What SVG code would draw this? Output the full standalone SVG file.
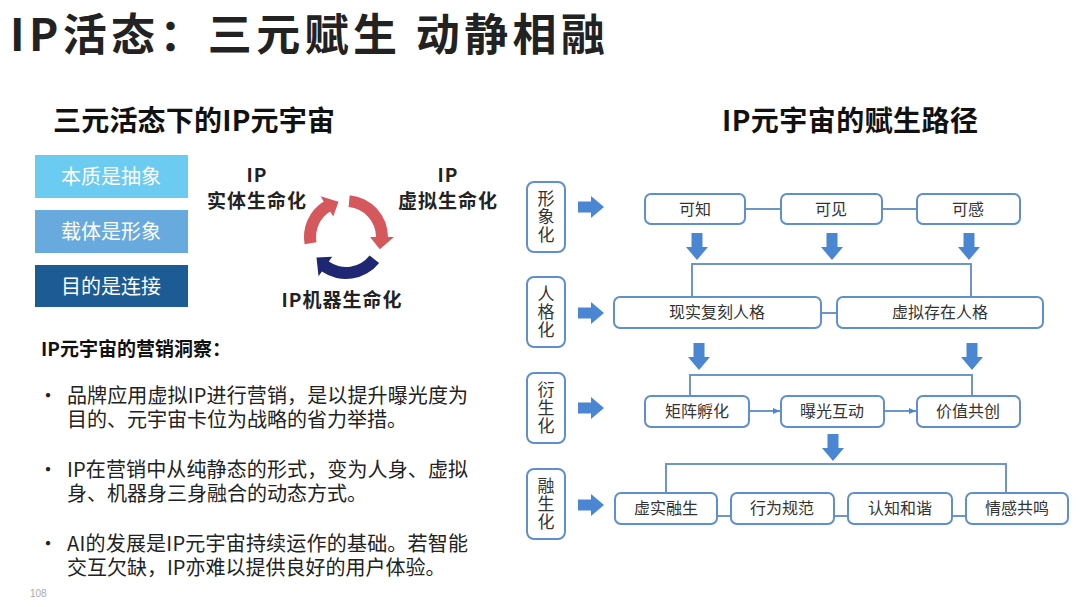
<svg xmlns="http://www.w3.org/2000/svg" xmlns:xlink="http://www.w3.org/1999/xlink" width="1080" height="607" viewBox="0 0 1080 607">
<style>
text{font-family:"Noto Sans CJK SC","Noto Sans",sans-serif;}
.title{font-size:44px;font-weight:bold;fill:#222;}
.sub{font-size:28px;font-weight:bold;fill:#111;}
.lbox{font-size:20px;fill:#fff;text-anchor:middle;}
.cyc{font-size:19px;font-weight:bold;fill:#222;text-anchor:middle;letter-spacing:1px;}
.head{font-size:19px;font-weight:bold;fill:#111;}
.body{font-size:20px;fill:#222;}
.box{fill:#fff;stroke:#5f8fcc;stroke-width:2;}
.bt{font-size:16px;fill:#333;text-anchor:middle;}
.vt{font-size:17px;fill:#333;text-anchor:middle;writing-mode:vertical-rl;letter-spacing:1px;}
.ln{fill:none;stroke:#6c95c8;stroke-width:2;}
.arr{fill:#4a86d2;}
</style>
<defs>
<path id="darr" d="M-5.5,0 H5.5 V14 H11 L0,27 L-11,14 H-5.5 Z"/>
<path id="rarr" d="M0,-5.5 H13 V-11 L26,0 L13,11 V5.5 H0 Z"/>
<marker id="sm" markerWidth="8" markerHeight="8" refX="7" refY="4" orient="auto" markerUnits="userSpaceOnUse">
<path d="M0,1 L7,4 L0,7 Z" fill="#4a86d2"/>
</marker>
</defs>
<rect width="1080" height="607" fill="#fff"/>

<text class="title" x="10" y="51" textLength="595" lengthAdjust="spacing">IP活态：三元赋生 动静相融</text>
<text class="sub" x="53" y="131" textLength="282" lengthAdjust="spacing">三元活态下的IP元宇宙</text>
<text class="sub" x="722" y="131" textLength="256" lengthAdjust="spacing">IP元宇宙的赋生路径</text>

<g id="left-boxes">
<g id="box-essence"><rect x="35" y="155" width="153" height="43" fill="#6ccbf0"/><text class="lbox" x="111" y="184">本质是抽象</text></g>
<g id="box-carrier"><rect x="35" y="210" width="153" height="43" fill="#68aade"/><text class="lbox" x="111" y="239">载体是形象</text></g>
<g id="box-purpose"><rect x="35" y="265" width="153" height="42" fill="#1c5b94"/><text class="lbox" x="111" y="294">目的是连接</text></g>
</g>

<g id="cycle">
<path d="M304.6,244.3 A42,42 0 0 1 323.7,201.4 L320.6,196.3 L338.5,201.8 L333.3,216.6 L330.1,211.6 A30,30 0 0 0 316.5,242.2 Z" fill="#d4585c"/>
<path d="M349.7,195.2 A42,42 0 0 1 388,237 L394,237 L379.8,249.3 L370,237 L376,237 A30,30 0 0 0 348.6,207.1 Z" fill="#d4585c"/>
<path d="M379.1,262.9 A42,42 0 0 1 321.9,271.4 L318.5,276.3 L316.5,257.6 L332.2,256.7 L328.8,261.6 A30,30 0 0 0 369.6,255.5 Z" fill="#1f2673"/>
<text class="cyc" x="257" y="182">IP</text>
<text class="cyc" x="257" y="208">实体生命化</text>
<text class="cyc" x="448" y="182">IP</text>
<text class="cyc" x="448" y="208">虚拟生命化</text>
<text class="cyc" x="342" y="307">IP机器生命化</text>
</g>

<g id="insights">
<text class="head" x="41" y="356">IP元宇宙的营销洞察：</text>
<text class="body" x="38" y="403">•</text>
<text class="body"><tspan x="67" y="403" textLength="401" lengthAdjust="spacing">品牌应用虚拟IP进行营销，是以提升曝光度为</tspan><tspan x="67" y="427">目的、元宇宙卡位为战略的省力举措。</tspan></text>
<text class="body" x="38" y="477">•</text>
<text class="body"><tspan x="67" y="477" textLength="401" lengthAdjust="spacing">IP在营销中从纯静态的形式，变为人身、虚拟</tspan><tspan x="67" y="501">身、机器身三身融合的动态方式。</tspan></text>
<text class="body" x="38" y="551">•</text>
<text class="body"><tspan x="67" y="551" textLength="401" lengthAdjust="spacing">AI的发展是IP元宇宙持续运作的基础。若智能</tspan><tspan x="67" y="575">交互欠缺，IP亦难以提供良好的用户体验。</tspan></text>
</g>
<text x="30" y="597" font-size="10" fill="#aaa" style="font-family:'Liberation Sans',sans-serif">108</text>

<g id="stage-labels">
<g id="stage-1"><rect class="box" x="527" y="182" width="38" height="70" rx="7"/><text class="vt" x="546" y="217">形象化</text></g>
<g id="stage-2"><rect class="box" x="527" y="277" width="38" height="70" rx="7"/><text class="vt" x="546" y="312">人格化</text></g>
<g id="stage-3"><rect class="box" x="527" y="373" width="38" height="70" rx="7"/><text class="vt" x="546" y="408">衍生化</text></g>
<g id="stage-4"><rect class="box" x="527" y="469" width="38" height="70" rx="7"/><text class="vt" x="546" y="504">融生化</text></g>
</g>

<g id="connectors">
<line class="ln" x1="745" y1="209" x2="781" y2="209"/>
<line class="ln" x1="882" y1="209" x2="917" y2="209"/>
<path class="ln" d="M692,297 V264 H971 V297"/>
<line class="ln" x1="821" y1="313" x2="837" y2="313"/>
<path class="ln" d="M690,396 V375 H972 V396"/>
<line class="ln" x1="749" y1="411" x2="780" y2="411" marker-end="url(#sm)"/>
<line class="ln" x1="884" y1="411" x2="916" y2="411" marker-end="url(#sm)"/>
<path class="ln" d="M666,493 V464 H1006 V493"/>
<line class="ln" x1="717" y1="516" x2="731" y2="516"/>
<line class="ln" x1="834" y1="516" x2="848" y2="516"/>
<line class="ln" x1="952" y1="516" x2="966" y2="516"/>
<use href="#rarr" class="arr" x="578" y="207"/>
<use href="#rarr" class="arr" x="578" y="313"/>
<use href="#rarr" class="arr" x="578" y="408"/>
<use href="#rarr" class="arr" x="578" y="505"/>
<use href="#darr" class="arr" x="697" y="233"/>
<use href="#darr" class="arr" x="832" y="233"/>
<use href="#darr" class="arr" x="969" y="233"/>
<use href="#darr" class="arr" x="699" y="343"/>
<use href="#darr" class="arr" x="972" y="343"/>
<use href="#darr" class="arr" x="833" y="434"/>
</g>

<g id="n-kezhi"><rect class="box" x="645" y="194" width="100" height="30" rx="6"/><text class="bt" x="695" y="215">可知</text></g>
<g id="n-kejian"><rect class="box" x="781" y="194" width="101" height="30" rx="6"/><text class="bt" x="831" y="215">可见</text></g>
<g id="n-kegan"><rect class="box" x="917" y="194" width="103" height="30" rx="6"/><text class="bt" x="968" y="215">可感</text></g>
<g id="n-xianshi"><rect class="box" x="614" y="297" width="207" height="31" rx="6"/><text class="bt" x="717" y="318">现实复刻人格</text></g>
<g id="n-xuni"><rect class="box" x="837" y="297" width="206" height="31" rx="6"/><text class="bt" x="940" y="318">虚拟存在人格</text></g>
<g id="n-juzhen"><rect class="box" x="645" y="396" width="104" height="31" rx="6"/><text class="bt" x="697" y="417">矩阵孵化</text></g>
<g id="n-baoguang"><rect class="box" x="781" y="396" width="103" height="31" rx="6"/><text class="bt" x="832" y="417">曝光互动</text></g>
<g id="n-jiazhi"><rect class="box" x="917" y="396" width="103" height="31" rx="6"/><text class="bt" x="968" y="417">价值共创</text></g>
<g id="n-xushi"><rect class="box" x="615" y="493" width="102" height="31" rx="6"/><text class="bt" x="666" y="514">虚实融生</text></g>
<g id="n-xingwei"><rect class="box" x="731" y="493" width="103" height="31" rx="6"/><text class="bt" x="782" y="514">行为规范</text></g>
<g id="n-renzhi"><rect class="box" x="848" y="493" width="104" height="31" rx="6"/><text class="bt" x="900" y="514">认知和谐</text></g>
<g id="n-qinggan"><rect class="box" x="966" y="493" width="102" height="31" rx="6"/><text class="bt" x="1017" y="514">情感共鸣</text></g>
</svg>
